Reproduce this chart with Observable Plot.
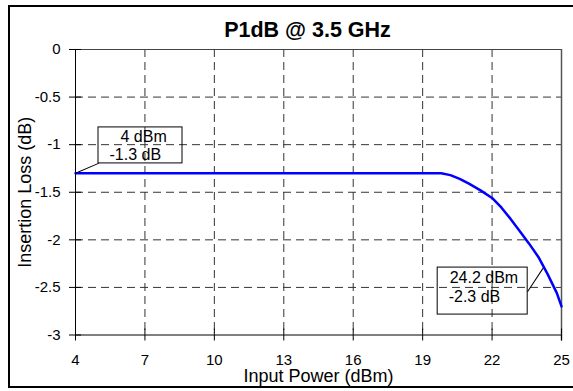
<!DOCTYPE html>
<html><head><meta charset="utf-8">
<script src="https://cdn.jsdelivr.net/npm/d3@7"></script>
<script src="https://cdn.jsdelivr.net/npm/@observablehq/plot@0.6"></script>
<style>
html,body{margin:0;padding:0;background:#fff;overflow:hidden;}
#wrap{position:relative;width:573px;height:391px;}
#border{position:absolute;left:8px;top:5px;width:640px;height:383px;border:2.5px solid #000;box-sizing:border-box;pointer-events:none;}
</style></head><body><div id="wrap"><div id="border"></div></div>
<script>
const inputPower    = [4, 19.8, 20.2, 20.6, 21.0, 21.5, 22.0, 22.4, 22.8, 23.2, 23.6, 24.0, 24.4, 24.8, 25.0];
const insertionLoss = [-1.30, -1.30, -1.32, -1.36, -1.41, -1.48, -1.56, -1.66, -1.78, -1.91, -2.04, -2.18, -2.36, -2.56, -2.70];
const xTicks = [4, 7, 10, 13, 16, 19, 22, 25];
const yTicks = [0, -0.5, -1, -1.5, -2, -2.5, -3];
const titleText = "P1dB @ 3.5 GHz";
const xLabel = "Input Power (dBm)";
const yLabel = "Insertion Loss (dB)";
const annotX = [4, 24.2];
const annotY = [-1.3, -2.3];
const annotLine1 = ["4 dBm", "24.2 dBm"];
const annotLine2 = ["-1.3 dB", "-2.3 dB"];

const data = inputPower.map((x, i) => ({x, y: insertionLoss[i]}));
const annots = annotX.map((x, i) => ({x, y: annotY[i], l1: annotLine1[i], l2: annotLine2[i]}));

const W = 573, H = 391, mL = 75, mR = 12, mT = 49, mB = 56.5;
const innerW = W - mL - mR, innerH = H - mT - mB;
const font = "'Liberation Sans', Arial, sans-serif";
const lineShape = {draw(ctx, l) { ctx.moveTo(0, 0); ctx.lineTo(0, -l); }};

const boxStyles = [
  {insetLeft: 23, insetRight: -107, insetTop: -45.8, insetBottom: 9.8, t1: [45, -30.8], t2: [34, -12.8], len: 25, rot: 66.9},
  {insetLeft: -105.3, insetRight: 15.3, insetTop: -0.8, insetBottom: -46.2, t1: [-93.3, 14.2], t2: [-94.3, 33.2], len: 27.8, rot: 213.4}
];

const annotMarks = annots.flatMap((a, i) => {
  const s = boxStyles[i];
  return [
    Plot.rect([a], {x1: "x", x2: "x", y1: "y", y2: "y", fill: "none", stroke: "#000", strokeWidth: 1,
      insetLeft: s.insetLeft, insetRight: s.insetRight, insetTop: s.insetTop, insetBottom: s.insetBottom}),
    Plot.text([a], {x: "x", y: "y", text: "l1", textAnchor: "start", lineAnchor: "bottom", dx: s.t1[0], dy: s.t1[1], fontSize: 16, fill: "#000"}),
    Plot.text([a], {x: "x", y: "y", text: "l2", textAnchor: "start", lineAnchor: "bottom", dx: s.t2[0], dy: s.t2[1], fontSize: 16, fill: "#000"}),
    Plot.vector([a], {x: "x", y: "y", length: s.len, rotate: s.rot, anchor: "start", shape: lineShape, stroke: "#000", strokeWidth: 1})
  ];
});

const chart = Plot.plot({
  width: W, height: H,
  marginLeft: mL, marginRight: mR, marginTop: mT, marginBottom: mB,
  style: {fontFamily: font, fontSize: "15px", background: "transparent", color: "#000"},
  x: {domain: [4, 25]},
  y: {domain: [-3, 0]},
  marks: [
    Plot.gridX(xTicks.slice(1, -1), {stroke: "#333", strokeOpacity: 1, strokeDasharray: "8,5"}),
    Plot.gridY(yTicks.slice(1, -1), {stroke: "#333", strokeOpacity: 1, strokeDasharray: "8,5"}),
    Plot.ruleY([0], {stroke: "#444", strokeWidth: 1}),
    Plot.ruleX([25], {stroke: "#555", strokeWidth: 1.5, insetBottom: -6}),
    Plot.ruleX([4], {stroke: "#000"}),
    Plot.ruleY([-3], {stroke: "#000"}),
    Plot.ruleX(xTicks, {stroke: "#000", insetTop: innerH - 6}),
    Plot.ruleY(yTicks, {stroke: "#000", insetRight: innerW - 6}),
    Plot.axisX({ticks: xTicks, tickSize: 6, tickPadding: 13, tickFormat: d => String(d), label: null, fontSize: 15}),
    Plot.axisY({ticks: yTicks, tickSize: 6, tickPadding: 9, tickFormat: d => String(d), label: null, fontSize: 15}),
    Plot.line(data, {x: "x", y: "y", stroke: "#0000ff", strokeWidth: 2.5}),
    ...annotMarks,
    Plot.text([titleText], {frameAnchor: "top", lineAnchor: "bottom", dy: -13, dx: -11, fontSize: 21.5, fontWeight: "bold", fill: "#000"}),
    Plot.text([xLabel], {frameAnchor: "bottom", lineAnchor: "bottom", dy: 47, fontSize: 18, fill: "#000"}),
    Plot.text([yLabel], {frameAnchor: "left", textAnchor: "middle", rotate: -90, dx: -50, fontSize: 18, fill: "#000"})
  ]
});
document.getElementById("wrap").prepend(chart);
</script>
</body></html>
